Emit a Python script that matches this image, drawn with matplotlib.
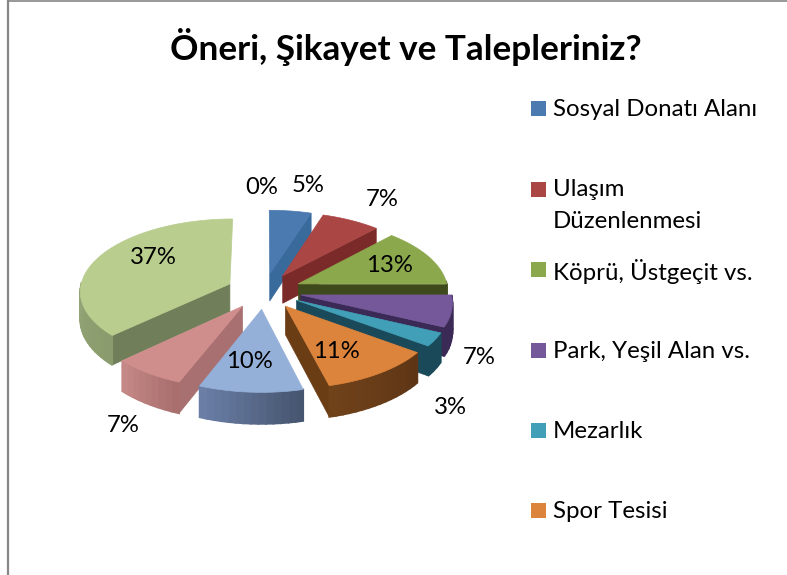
import numpy as np
import matplotlib
matplotlib.use('Agg')
import matplotlib.pyplot as plt
from matplotlib.colors import to_rgb
from matplotlib.patches import Rectangle

plt.rcParams['font.family'] = ['Lato', 'DejaVu Sans']

title = 'Öneri, Şikayet ve Talepleriniz?'
values = [5, 7, 13, 7, 3, 11, 10, 7, 37, 0]
legend_labels = ['Sosyal Donatı Alanı', 'Ulaşım\nDüzenlenmesi', 'Köprü, Üstgeçit vs.',
                 'Park, Yeşil Alan vs.', 'Mezarlık', 'Spor Tesisi']

top_colors = ['#4a7ab0', '#aa4644', '#8ba84c', '#74589a', '#41a0b8',
              '#dc843c', '#95b0d8', '#cf8d8b', '#b9cd8e', '#4a7ebb']
rim_start = ['#2f5f8f', '#7a2a28', '#3f4a1c', '#3b2a55', '#1a4a5a',
             '#5e3515', '#465670', '#a86f6e', '#8a9c6c', '#2f5f8f']
rim_end = ['#2f5f8f', '#7a2a28', '#3f4a1c', '#3b2a55', '#1a4a5a',
           '#70421a', '#6a7ea6', '#c48886', '#a5b78a', '#2f5f8f']
cut_colors = ['#386a9c', '#7a2a28', '#3f4a1c', '#3b2a55', '#1a4a5a',
              '#6b3d15', '#5a6c8c', '#a87070', '#707f5a', '#2f5f8f']

# label centres in pixels, same order as values
label_pos = [(308, 185), (382, 200), (389, 266), (479, 357), (450, 407),
             (336, 351), (249, 362), (123, 425), (153, 257), (262, 187)]

# pie geometry in pixels
cx, cy = 264, 291
rx, ry = 150, 72
persp = 0.09
depth = 28
explode = 0.25


def project(u, v, down=0):
    s = 1 + persp * v
    return cx + rx * u / s, cy - ry * v / s + down / s


def face(ax, pts, color, z, lw=0.5):
    xs, ys = zip(*pts)
    ax.fill(xs, ys, color=color, lw=lw, zorder=z)


fig = plt.figure(figsize=(7.87, 5.75), dpi=100)
ax = fig.add_axes([0, 0, 1, 1])
ax.set_xlim(0, 787)
ax.set_ylim(575, 0)
ax.axis('off')

# chart border, only left and top are visible in the crop
ax.plot([8, 8], [1, 575], color='#868686', lw=1.6, zorder=1)
ax.plot([8, 787], [1, 1], color='#868686', lw=1.2, zorder=1)

shares = np.array(values) / sum(values)
ends = np.cumsum(shares) * 2 * np.pi
starts = ends - shares * 2 * np.pi

slices = []
for i in range(len(values)):
    if values[i] == 0:
        continue
    mid = (starts[i] + ends[i]) / 2
    slices.append((explode * np.cos(mid), i))

# back slices first
slices.sort(reverse=True)

z = 2
for ev, i in slices:
    a, b = starts[i], ends[i]
    mid = (a + b) / 2
    ou, ov = explode * np.sin(mid), explode * np.cos(mid)
    th = np.linspace(a, b, max(int((b - a) / 0.04), 2))
    us = ou + np.sin(th)
    vs = ov + np.cos(th)

    # cut faces
    if np.sin(a) < -1e-6:
        face(ax, [project(ou, ov), project(us[0], vs[0]),
                  project(us[0], vs[0], depth), project(ou, ov, depth)], cut_colors[i], z)
    if np.sin(b) > 1e-6:
        face(ax, [project(ou, ov), project(us[-1], vs[-1]),
                  project(us[-1], vs[-1], depth), project(ou, ov, depth)], cut_colors[i], z)

    # outer rim, shaded along the arc
    c0, c1 = np.array(to_rgb(rim_start[i])), np.array(to_rgb(rim_end[i]))
    for j in range(len(th) - 1):
        if np.cos(th[j]) > 0.02 and np.cos(th[j + 1]) > 0.02:
            continue
        t = j / max(len(th) - 2, 1)
        face(ax, [project(us[j], vs[j]), project(us[j + 1], vs[j + 1]),
                  project(us[j + 1], vs[j + 1], depth), project(us[j], vs[j], depth)],
             tuple(c0 + (c1 - c0) * t), z + 0.1, lw=1.2)

    # top
    pts = [project(ou, ov)] + [project(p, q) for p, q in zip(us, vs)]
    face(ax, pts, top_colors[i], z + 0.2)
    z += 1

for val, (x, y) in zip(values, label_pos):
    ax.text(x, y, f'{val}%', ha='center', va='center', fontsize=17.2, color='black', zorder=50)

ax.text(406, 47, title, ha='center', va='center', fontsize=25.3, fontweight='bold', color='black')

# legend, the last entries are cut off in the original
rows = [108, 189, 269, 350, 430, 510]
for lab, col, y in zip(legend_labels, top_colors, rows):
    ax.add_patch(Rectangle((531, y - 7.5), 15, 15, facecolor=col, edgecolor='none', zorder=3))
    ax.text(553, y - 9.5, lab, ha='left', va='top', fontsize=17.3, color='black',
            linespacing=1.6)

fig.savefig('out.png', dpi=100)
